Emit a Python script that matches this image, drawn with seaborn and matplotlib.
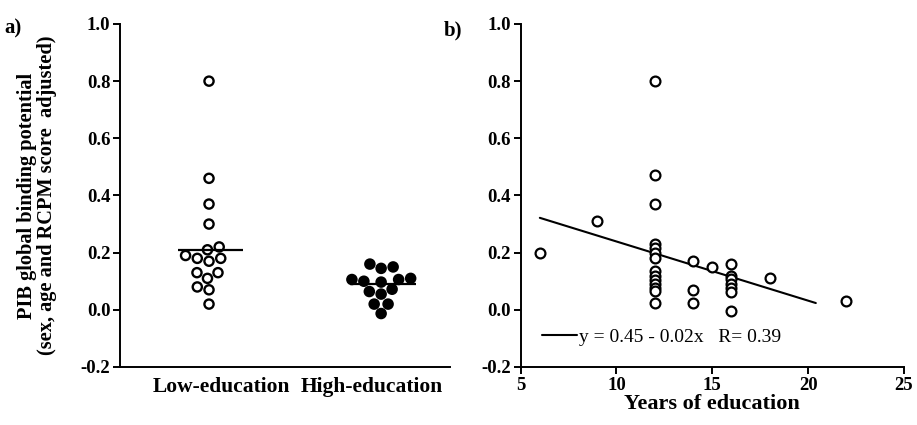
import numpy as np
import pandas as pd
import matplotlib
matplotlib.use("Agg")
import matplotlib.pyplot as plt
import matplotlib.transforms as mtransforms
import seaborn as sns
from matplotlib.lines import Line2D

# PIB binding potential by education group
low_edu = [0.80, 0.46, 0.37, 0.30, 0.22, 0.21, 0.19, 0.18, 0.18, 0.17,
           0.13, 0.13, 0.11, 0.08, 0.07, 0.02]
high_edu = [0.16, 0.15, 0.145, 0.11, 0.106, 0.106, 0.10, 0.097, 0.072,
            0.064, 0.055, 0.02, 0.02, -0.013]
group_names = ["Low-education", "High-education"]
group_means = [0.21, 0.09]

# PIB binding potential against years of education
years = [6, 9,
         12, 12, 12, 12, 12, 12, 12, 12, 12, 12, 12, 12, 12, 12,
         14, 14, 14, 15,
         16, 16, 16, 16, 16, 16, 16, 18, 22]
pib = [0.20, 0.31,
       0.80, 0.47, 0.37, 0.23, 0.215, 0.20, 0.18, 0.135, 0.12, 0.105, 0.09,
       0.075, 0.065, 0.025,
       0.17, 0.07, 0.025, 0.15,
       0.16, 0.12, 0.107, 0.09, 0.076, 0.064, -0.003, 0.11, 0.03]
fit_intercept = 0.446
fit_slope = -0.0207
fit_r = 0.39
fit_x_range = [6.0, 20.4]

sns.set_theme(style="ticks")
plt.rcParams["font.family"] = ["Liberation Serif", "DejaVu Serif"]
plt.rcParams["font.weight"] = "bold"
plt.rcParams["axes.labelweight"] = "bold"
plt.rcParams["text.color"] = "black"
plt.rcParams["axes.labelcolor"] = "black"
plt.rcParams["axes.linewidth"] = 1.4
plt.rcParams["xtick.major.width"] = 1.4
plt.rcParams["ytick.major.width"] = 1.4
plt.rcParams["xtick.major.size"] = 5
plt.rcParams["ytick.major.size"] = 5
plt.rcParams["xtick.color"] = "black"
plt.rcParams["ytick.color"] = "black"
plt.rcParams["xtick.labelcolor"] = "black"
plt.rcParams["ytick.labelcolor"] = "black"
plt.rcParams["axes.edgecolor"] = "black"

fig = plt.figure(figsize=(9.17, 4.25), dpi=100)
ax1 = fig.add_axes([0.1309, 0.1365, 0.3598, 0.8071])
ax2 = fig.add_axes([0.5678, 0.1365, 0.4180, 0.8071])

# ---- panel a: swarm of both groups with mean bars
df = pd.DataFrame({
    "group": [group_names[0]] * len(low_edu) + [group_names[1]] * len(high_edu),
    "value": low_edu + high_edu,
})
sns.swarmplot(data=df, x="group", y="value", hue="group", order=group_names,
              palette={group_names[0]: "white", group_names[1]: "black"},
              edgecolor="black", linewidth=1.7, size=6.6, legend=False, ax=ax1)
for i, m in enumerate(group_means):
    ax1.hlines(m, i - 0.18, i + 0.2, color="black", linewidth=1.6, zorder=5)

ax1.set_ylim(-0.2, 1.0)
ax1.set_xlim(-0.517, 1.40)
ax1.set_yticks(np.arange(-0.2, 1.01, 0.2))
ax1.set_yticklabels([f"{v:.1f}" for v in np.arange(-0.2, 1.01, 0.2)])
ax1.tick_params(axis="x", length=0, labelsize=15.5, pad=7)
ax1.tick_params(axis="y", labelsize=13.5, pad=2)
# nudge the two group names toward each other
for lbl, dx in zip(ax1.get_xticklabels(), [12, -9]):
    lbl.set_transform(lbl.get_transform()
                      + mtransforms.ScaledTranslation(dx / 100, 0, fig.dpi_scale_trans))
ax1.set_xlabel("")
ax1.set_ylabel("PIB global binding potential\n(sex, age and RCPM score  adjusted)",
               fontsize=14.7, labelpad=17, linespacing=1.0)
sns.despine(ax=ax1)

# ---- panel b: scatter against years of education with fitted line
sns.scatterplot(x=years, y=pib, ax=ax2, marker="o", s=50,
                facecolor="white", edgecolor="black", linewidth=1.6, zorder=3)
fit_x = np.array(fit_x_range)
sns.lineplot(x=fit_x, y=fit_intercept + fit_slope * fit_x, ax=ax2,
             color="black", linewidth=1.5)

ax2.set_xlim(5, 25)
ax2.set_ylim(-0.2, 1.0)
ax2.set_xticks([5, 10, 15, 20, 25])
ax2.set_yticks(np.arange(-0.2, 1.01, 0.2))
ax2.set_yticklabels([f"{v:.1f}" for v in np.arange(-0.2, 1.01, 0.2)])
ax2.tick_params(axis="both", labelsize=13.5, pad=2)
ax2.set_xlabel("Years of education", fontsize=16, labelpad=0)
ax2.set_ylabel("")
sns.despine(ax=ax2)

label = f"y = {fit_intercept:.2f} - {abs(fit_slope):.2f}x   R= {fit_r:.2f}"
handle = Line2D([], [], color="black", linewidth=1.5)
ax2.legend([handle], [label], loc="center left", bbox_to_anchor=(0.055, 0.087),
           frameon=False, handlelength=1.8, handletextpad=0.12,
           borderaxespad=0, borderpad=0,
           prop={"family": "Liberation Serif", "weight": "normal", "size": 14})

fig.text(0.005, 0.934, "a)", fontsize=15, fontweight="bold", va="center")
fig.text(0.484, 0.928, "b)", fontsize=15, fontweight="bold", va="center")

fig.savefig("out.png", dpi=100)
